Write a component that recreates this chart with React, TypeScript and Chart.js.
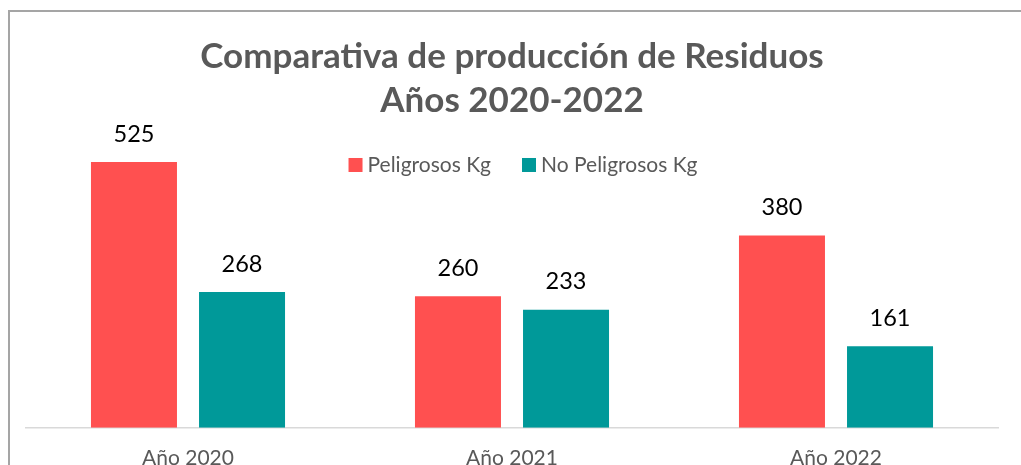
import React, { useEffect, useRef } from "react";
import { Chart, registerables } from "chart.js";

Chart.register(...registerables);

const categories = ["Año 2020", "Año 2021", "Año 2022"];
const peligrosos = [525, 260, 380];
const noPeligrosos = [268, 233, 161];
const titleLines = ["Comparativa de producción de Residuos", "Años 2020-2022"];
const seriesNames = ["Peligrosos Kg", "No Peligrosos Kg"];
const seriesColors = ["#FF5050", "#009999"];

const FONT = "Lato, 'Open Sans', sans-serif";

const dataLabels = {
  id: "dataLabels",
  afterDatasetsDraw(chart: any) {
    const ctx = chart.ctx;
    ctx.save();
    ctx.font = `23.5px ${FONT}`;
    ctx.fillStyle = "#000000";
    ctx.textAlign = "center";
    ctx.textBaseline = "middle";
    chart.data.datasets.forEach((ds: any, i: number) => {
      const meta = chart.getDatasetMeta(i);
      meta.data.forEach((bar: any, j: number) => {
        ctx.fillText(String(ds.data[j]), bar.x, bar.y - 28);
      });
    });
    ctx.restore();
  },
};

const insideLegend = {
  id: "insideLegend",
  afterDraw(chart: any) {
    const ctx = chart.ctx;
    const area = chart.chartArea;
    ctx.save();
    ctx.font = `21px ${FONT}`;
    ctx.textBaseline = "middle";
    ctx.textAlign = "left";
    const box = 14;
    const gap = 5;
    const itemGap = 31;
    const items = chart.data.datasets.map((ds: any) => ({
      label: ds.label,
      color: ds.backgroundColor,
      w: box + gap + ctx.measureText(ds.label).width,
    }));
    const total = items.reduce((s: number, it: any) => s + it.w, 0) + itemGap * (items.length - 1);
    let x = (area.left + area.right) / 2 + 11 - total / 2;
    const cy = area.top + 41;
    items.forEach((it: any) => {
      ctx.fillStyle = it.color;
      ctx.fillRect(x, cy - box / 2, box, box);
      ctx.fillStyle = "#595959";
      ctx.fillText(it.label, x + box + gap, cy);
      x += it.w + itemGap;
    });
    ctx.restore();
  },
};

export default function App() {
  const ref = useRef<HTMLCanvasElement | null>(null);
  useEffect(() => {
    if (!ref.current) return;
    const chart = new Chart(ref.current, {
      type: "bar",
      data: {
        labels: categories,
        datasets: [
          { label: seriesNames[0], data: peligrosos, backgroundColor: seriesColors[0] },
          { label: seriesNames[1], data: noPeligrosos, backgroundColor: seriesColors[1] },
        ],
      },
      options: {
        animation: false,
        responsive: false,
        maintainAspectRatio: false,
        layout: { padding: { left: 26, right: 23, top: 13, bottom: 10 } },
        datasets: { bar: { categoryPercentage: 0.667, barPercentage: 0.796 } } as any,
        scales: {
          x: {
            grid: { display: false, drawTicks: false },
            border: { display: true, color: "#d9d9d9", width: 1.5 },
            ticks: { color: "#595959", font: { family: FONT, size: 21 }, padding: 18 },
          },
          y: { display: false, min: 0, max: 600 },
        },
        plugins: {
          title: {
            display: true,
            text: titleLines,
            color: "#595959",
            font: { family: FONT, size: 35, weight: "bold", lineHeight: 1.257 },
            padding: { top: 22, bottom: 1 },
          },
          legend: { display: false },
          tooltip: { enabled: false },
        },
      },
      plugins: [dataLabels, insideLegend],
    });
    return () => chart.destroy();
  }, []);
  return (
    <div style={{ position: "absolute", left: 0, top: 0, width: 1021, height: 465, overflow: "hidden", background: "#fff" }}>
      <div style={{ position: "absolute", left: 8, top: 10, width: 1100, height: 600, borderLeft: "2px solid #a5a5a5", borderTop: "2px solid #a5a5a5" }} />
      <canvas ref={ref} width={1021} height={499} style={{ position: "absolute", left: 0, top: 0 }} />
    </div>
  );
}
